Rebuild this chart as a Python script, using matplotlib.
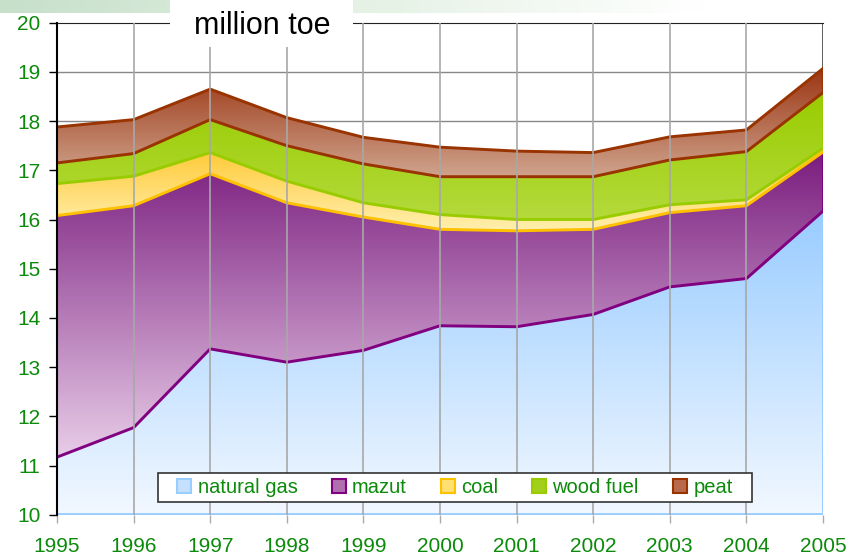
import numpy as np
import matplotlib.pyplot as plt
from matplotlib.colors import LinearSegmentedColormap
from matplotlib.patches import Patch, Rectangle

plt.rcParams["font.family"] = ["Liberation Sans", "DejaVu Sans"]

years = [1995, 1996, 1997, 1998, 1999, 2000, 2001, 2002, 2003, 2004, 2005]
natural_gas = [11.17, 11.77, 13.37, 13.10, 13.34, 13.84, 13.82, 14.07, 14.63, 14.80, 16.17]
mazut = [4.91, 4.51, 3.56, 3.24, 2.71, 1.96, 1.95, 1.73, 1.51, 1.48, 1.20]
coal = [0.65, 0.60, 0.43, 0.44, 0.29, 0.30, 0.23, 0.20, 0.16, 0.12, 0.08]
wood_fuel = [0.42, 0.46, 0.67, 0.72, 0.79, 0.77, 0.87, 0.87, 0.91, 0.98, 1.13]
peat = [0.73, 0.69, 0.62, 0.57, 0.54, 0.60, 0.52, 0.49, 0.47, 0.44, 0.49]

labels = ["natural gas", "mazut", "coal", "wood fuel", "peat"]
# (top colour, bottom colour, border colour)
styles = [
    ("#99CCFF", "#F2F8FF", "#99CCFF"),
    ("#7A1C7E", "#E8CDE8", "#800080"),
    ("#FFC933", "#FFF0B0", "#FFC000"),
    ("#99CC00", "#B4DA3C", "#99CC00"),
    ("#9A3512", "#D0A48E", "#993300"),
]
legend_fill = ["#C5E1FF", "#B070B0", "#FFE070", "#A2D01A", "#B86A4A"]
GREEN = "#0B8A0B"

fig = plt.figure(figsize=(8.47, 5.55), dpi=100)
W, H = 847, 555

# green banner at top
band = fig.add_axes([0, 1 - 13 / H, 1, 13 / H])
band.axis("off")
bcm = LinearSegmentedColormap.from_list("band", ["#C6E0CA", "#E4F1E4", "#FFFFFF"])
grad = np.linspace(0, 1, 400).reshape(1, -1)
band.imshow(np.clip(grad * 1.2, 0, 1), cmap=bcm, aspect="auto", extent=[0, 1, 0, 1])

ax = fig.add_axes([57 / W, 1 - 514.7 / H, (823 - 57) / W, (514.7 - 22.7) / H])

x = np.array(years, dtype=float)
series = [natural_gas, mazut, coal, wood_fuel, peat]
bottom = np.zeros(len(years))
layers = []
for i, (vals, (ctop, cbot, cedge)) in enumerate(zip(series, styles)):
    top = bottom + np.array(vals)
    poly = ax.fill_between(x, bottom, top, facecolor="none", edgecolor="none", zorder=2 + i)
    lo = max(10, bottom.min())
    hi = top.max()
    cm = LinearSegmentedColormap.from_list("g%d" % i, [cbot, ctop])
    g = np.linspace(0, 1, 256).reshape(-1, 1)
    im = ax.imshow(g, cmap=cm, aspect="auto", origin="lower",
                   extent=[1995, 2005, lo, hi], zorder=2 + i)
    im.set_clip_path(poly.get_paths()[0], transform=ax.transData)
    layers.append((bottom.copy(), top.copy()))
    bottom = top

# borders
for i, ((b, t), (_, _, cedge)) in enumerate(zip(layers, styles)):
    z = 2 + i + 0.5
    if i > 0:
        ax.plot(x, b, color=cedge, lw=2.1, zorder=z, solid_capstyle="butt")
    ax.plot([2005, 2005], [max(b[-1], 10), t[-1]], color=cedge, lw=2.1, zorder=z)
    if i == 0:
        ax.plot([1995, 2005], [10.02, 10.02], color=cedge, lw=2.0, zorder=z)
ax.plot(x, layers[-1][1], color=styles[-1][2], lw=2.1, zorder=7)
# right border above the stack
ax.plot([2005, 2005], [layers[-1][1][-1], 20], color="#444444", lw=1.2, zorder=1)

# grid lines
for yv in range(11, 20):
    ax.axhline(yv, color="#888888", lw=1, zorder=1)
for xv in years[1:-1]:
    ax.axvline(xv, color="#A8A8A8", lw=1.2, zorder=8)

ax.set_xlim(1995, 2005)
ax.set_ylim(10, 20)
ax.set_xticks(years)
ax.set_yticks(range(10, 21))
ax.tick_params(axis="y", colors="black", labelcolor=GREEN, labelsize=15,
               direction="out", length=6, width=1, pad=6)
ax.tick_params(axis="x", colors="#AAAAAA", labelcolor=GREEN, labelsize=15,
               direction="out", length=6, width=1, pad=10)

ax.spines["bottom"].set_visible(False)
ax.spines["right"].set_visible(False)
ax.spines["left"].set_color("black")
ax.spines["left"].set_linewidth(1.5)
ax.spines["left"].set_zorder(9)
ax.spines["top"].set_color("#222222")

# legend box drawn by hand, entries from fig.legend
fig.patches.append(Rectangle((158 / W, 1 - 502 / H), 594 / W, 29 / H,
                             transform=fig.transFigure, facecolor="white",
                             edgecolor="#333333", lw=1.2, zorder=19))
handles = [Patch(facecolor=f, edgecolor=s[2], lw=1.5) for f, s in zip(legend_fill, styles)]
leg = fig.legend(handles, labels, loc="center", ncol=5,
                 bbox_to_anchor=(455 / W, 1 - 487.5 / H), fontsize=14.5,
                 frameon=False, handlelength=0.7, handleheight=0.7,
                 handletextpad=0.3, columnspacing=1.7, borderpad=0.2,
                 borderaxespad=0, labelcolor=GREEN)
leg.set_zorder(20)

# title box
fig.patches.append(Rectangle((170 / W, 1 - 47 / H), 183 / W, 47 / H,
                             transform=fig.transFigure, facecolor="white",
                             edgecolor="none", zorder=10))
fig.text(262 / W, 1 - 34 / H, "million toe", ha="center", va="baseline",
         fontsize=22, color="black", zorder=11)

fig.savefig("out.png", dpi=100)
